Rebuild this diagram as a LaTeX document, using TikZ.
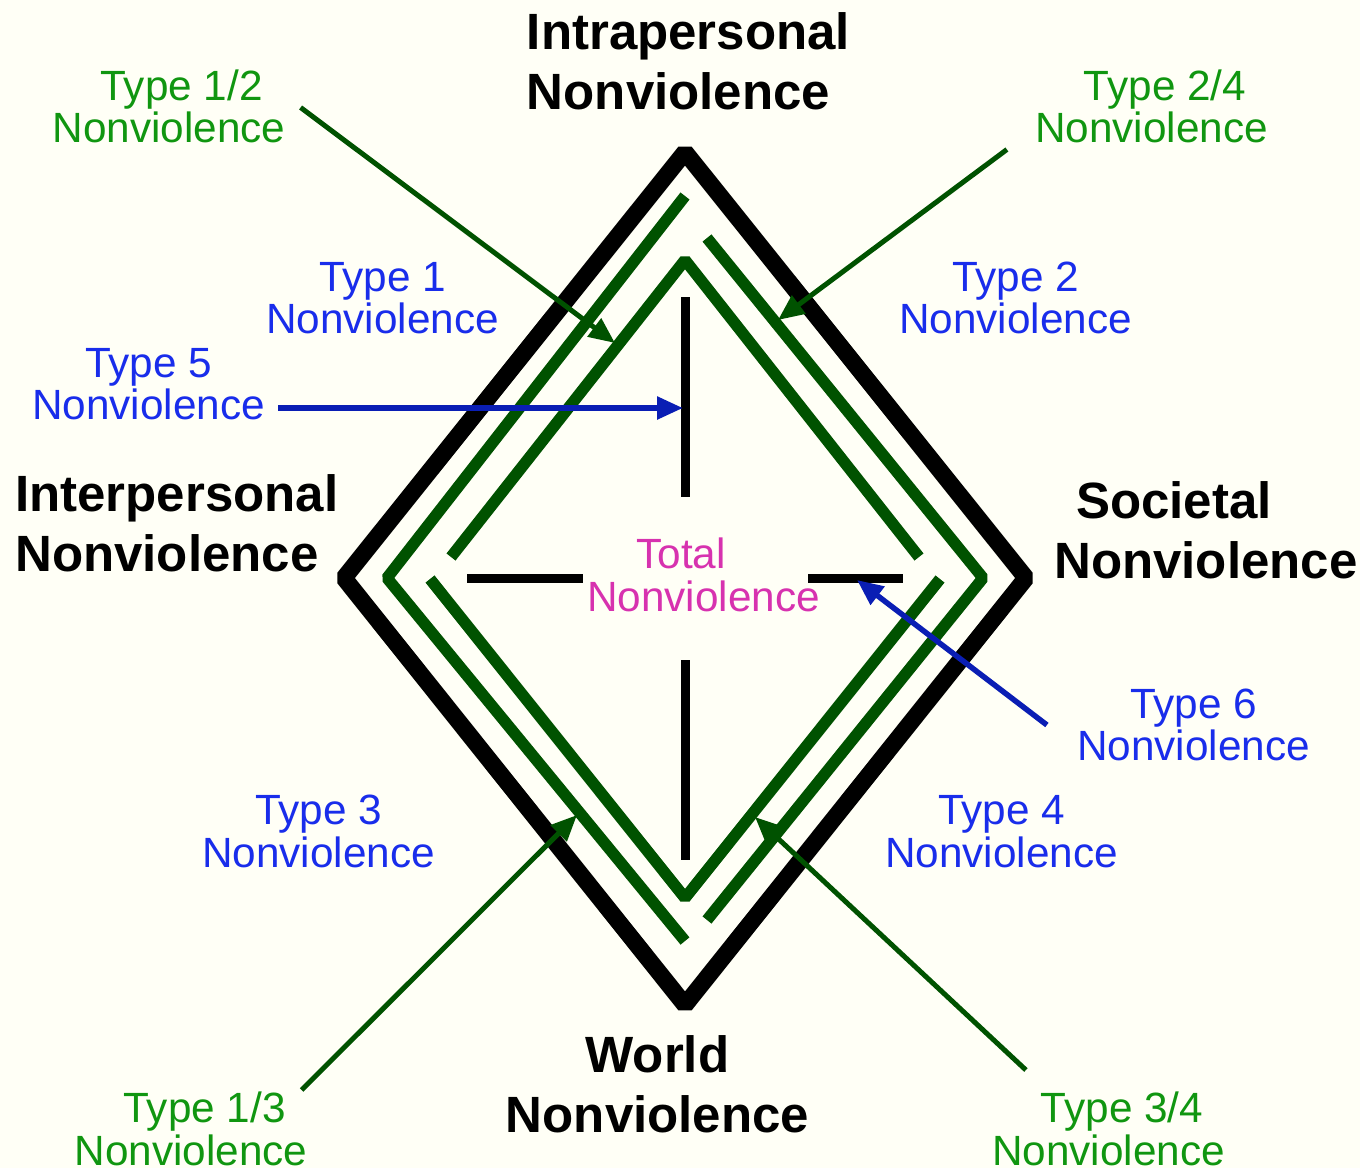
\documentclass[tikz,border=0pt]{standalone}
\usepackage{fontspec}
\setmainfont{Liberation Sans}
\usetikzlibrary{arrows.meta}

\definecolor{paper}{RGB}{255,255,246}
\definecolor{leaf}{RGB}{0,82,0}
\definecolor{leaftext}{RGB}{16,150,16}
\definecolor{bluetext}{RGB}{25,45,235}
\definecolor{bluearrow}{RGB}{10,30,180}
\definecolor{totaltext}{RGB}{215,50,175}

\begin{document}
\begin{tikzpicture}[x=1pt,y=-1pt]

      \fill[paper] (0,0) rectangle (1360,1168);
      \useasboundingbox (0,0) rectangle (1360,1168);

      % outer frame
      \draw[line width=17pt,line join=bevel] (685,152) -- (1026,578) -- (685,1005) -- (344,578) -- cycle;

      % green chevrons
      \begin{scope}[line width=11.5pt,line join=bevel,draw=leaf]
        \draw (685,196) -- (387,578) -- (685,941);
        \draw (707,238) -- (983,578) -- (707,920);
        \draw (451,557) -- (685,260) -- (919,557);
        \draw (430,579) -- (685,898) -- (940,579);
      \end{scope}

      % inner cross
      \begin{scope}[line width=9pt]
        \draw (685,297) -- (685,497);
        \draw (685,660) -- (685,860);
        \draw (467,578) -- (583,578);
        \draw (808,578) -- (903,578);
      \end{scope}

      \begin{scope}[every node/.style={font=\bfseries\fontsize{51}{60}\selectfont,inner sep=0pt}]
        \node[align=center] (intra) at (688.5,61.5) {Intrapersonal\\Nonviolence\hspace*{20pt}};
        \node[align=left,anchor=west] (inter) at (15,523.5) {Interpersonal\\Nonviolence};
        \node[align=left,anchor=west] (soc) at (1054,530) {\hspace*{22pt}Societal\\Nonviolence};
        \node[align=center] (world) at (657.5,1084.5) {World\\Nonviolence};
      \end{scope}

      \begin{scope}[every node/.style={font=\fontsize{42.3}{42.5}\selectfont,align=center,inner sep=6pt}]
        \node[text=leaftext] (t12) at (169,106.5) {\hspace*{25pt}Type 1/2\\Nonviolence};
        \node[text=leaftext] (t24) at (1151.5,106.5) {\hspace*{27pt}Type 2/4\\Nonviolence};
        \node[text=leaftext] (t13) at (191,1129) {\hspace*{27pt}Type 1/3\\Nonviolence};
        \node[text=leaftext] (t34) at (1108.5,1129) {\hspace*{27pt}Type 3/4\\Nonviolence};
        \node[text=bluetext] (t1) at (382.5,298) {Type 1\\Nonviolence};
        \node[text=bluetext] (t2) at (1015.5,298) {Type 2\\Nonviolence};
        \node[text=bluetext] (t5) at (148.5,384) {Type 5\\Nonviolence};
        \node[text=bluetext] (t3) at (318.5,831.5) {Type 3\\Nonviolence};
        \node[text=bluetext] (t4) at (1001.5,831.5) {Type 4\\Nonviolence};
        \node[text=bluetext] (t6) at (1193.5,725) {Type 6\\Nonviolence};
        \node[text=totaltext] (total) at (703.5,575) {Total\hspace*{45pt}\\Nonviolence};
      \end{scope}

      \coordinate (tip12) at (615,343);
      \coordinate (tip24) at (778,320);
      \coordinate (tip13) at (577,815);
      \coordinate (tip34) at (755,817);
      \coordinate (tip5) at (683,408);
      \coordinate (tip6) at (857,580);

      \begin{scope}[every edge/.style={draw=leaf,line width=5pt,-{Triangle[length=26pt,width=22pt]}}]
        \path ([xshift=9pt,yshift=-1pt]t12.east) edge (tip12);
        \path ([xshift=-22pt]t24.south west) edge (tip24);
        \path ([xshift=-12pt,yshift=-4pt]t13.north east) edge (tip13);
        \path ([xshift=40pt,yshift=16pt]t34.north west) edge (tip34);
      \end{scope}

      \begin{scope}[every edge/.style={draw=bluearrow,line width=5.5pt,-{Triangle[length=26pt,width=22pt]}}]
        \path ([xshift=7pt,yshift=-24pt]t5.east) edge (tip5);
        \path ([xshift=-24pt]t6.west) edge (tip6);
      \end{scope}

    \end{tikzpicture}
\end{document}
